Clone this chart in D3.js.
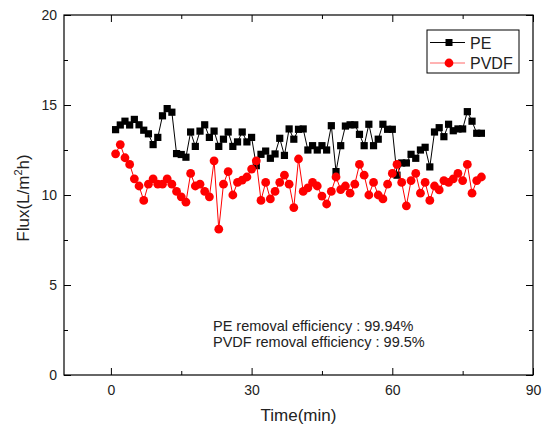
<!DOCTYPE html>
<html>
<head>
    <meta charset="utf-8" />
    <title>Flux</title>
    <script src="https://cdn.jsdelivr.net/npm/d3@7/dist/d3.min.js" charset="utf-8"></script>
    <style>
        body { margin: 0; background: #fff; }
        text { font-family: Arial, "Liberation Sans", sans-serif; }
    </style>
</head>
<body>
<script charset="utf-8">

    // time in minutes, one reading per minute
    var time = [1,2,3,4,5,6,7,8,9,10,11,12,13,14,15,16,17,18,19,20,
        21,22,23,24,25,26,27,28,29,30,31,32,33,34,35,36,37,38,39,40,
        41,42,43,44,45,46,47,48,49,50,51,52,53,54,55,56,57,58,59,60,
        61,62,63,64,65,66,67,68,69,70,71,72,73,74,75,76,77,78,79];
    var peFlux = [13.63,13.89,14.1,13.89,14.2,13.9,13.6,13.4,12.8,13.2,
        14.4,14.8,14.6,12.3,12.25,12.1,13.5,12.7,13.55,13.9,
        13.2,13.55,12.7,13.1,13.5,12.7,12.95,13.5,12.95,13.2,
        11.63,12.26,12.44,12.04,12.28,13.15,12.2,13.67,13.1,13.65,
        13.67,12.5,12.74,12.5,12.74,12.5,13.85,11.3,12.74,13.83,
        13.9,13.9,13.37,12.74,13.93,12.74,13.1,13.93,13.65,13.65,
        11.1,11.78,11.78,12.26,12.04,12.5,12.65,11.56,13.5,13.74,
        13.24,13.93,13.57,13.67,13.67,14.63,14.1,13.43,13.43];
    var pvdfFlux = [12.29,12.8,12.07,11.7,10.9,10.5,9.7,10.6,10.9,10.6,
        10.6,10.9,10.6,10.2,9.9,9.6,11.2,10.5,10.6,10.2,
        9.9,11.9,8.1,10.6,11.3,10.0,10.7,10.83,11.0,11.44,
        11.9,9.7,10.7,9.78,10.2,10.7,11.1,10.6,9.3,12.0,
        10.2,10.4,10.7,10.5,9.94,9.5,10.2,11.0,10.3,10.5,
        10.1,10.6,11.7,11.1,10.0,10.7,10.0,9.78,10.6,11.2,
        11.7,10.7,9.4,10.8,11.2,10.1,10.7,9.7,10.5,10.28,
        10.8,10.7,10.9,11.2,10.8,11.7,10.1,10.8,11.0];

    var xTicks = [0,30,60,90];
    var xMinor = [15,45,75];
    var yTicks = [0,5,10,15,20];
    var yMinor = [2.5,7.5,12.5,17.5];
    var seriesNames = ['PE','PVDF'];
    var notes = ['PE removal efficiency : 99.94%', 'PVDF removal efficiency : 99.5%'];

    var width = 550;
    var height = 429;
    var plot = { left: 64, right: 533, top: 15, bottom: 375 };

    var xScale = d3.scaleLinear().domain([-10,90]).range([plot.left, plot.right]);
    var yScale = d3.scaleLinear().domain([0,20]).range([plot.bottom, plot.top]);

    var svg = d3.select('body').append('svg').attr('width',width).attr('height',height);

    // axes, ticks pointing inward like Origin
    var xAxis = d3.axisBottom(xScale).tickValues(xTicks).tickSizeInner(-7).tickSizeOuter(0).tickPadding(10);
    var yAxis = d3.axisLeft(yScale).tickValues(yTicks).tickSizeInner(-7).tickSizeOuter(0).tickPadding(7);

    svg.append('g').attr('transform','translate(0,' + plot.bottom + ')').call(xAxis);
    svg.append('g').attr('transform','translate(' + plot.left + ',0)').call(yAxis);
    svg.append('g').attr('transform','translate(0,' + plot.bottom + ')')
        .call(d3.axisBottom(xScale).tickValues(xMinor).tickSize(-4).tickFormat(''));
    svg.append('g').attr('transform','translate(' + plot.left + ',0)')
        .call(d3.axisLeft(yScale).tickValues(yMinor).tickSize(-4).tickFormat(''));
    // mirrored ticks on top and right
    svg.append('g').attr('transform','translate(0,' + plot.top + ')')
        .call(d3.axisTop(xScale).tickValues(xTicks).tickSize(-7).tickFormat(''));
    svg.append('g').attr('transform','translate(0,' + plot.top + ')')
        .call(d3.axisTop(xScale).tickValues(xMinor).tickSize(-4).tickFormat(''));
    svg.append('g').attr('transform','translate(' + plot.right + ',0)')
        .call(d3.axisRight(yScale).tickValues(yTicks).tickSize(-7).tickFormat(''));
    svg.append('g').attr('transform','translate(' + plot.right + ',0)')
        .call(d3.axisRight(yScale).tickValues(yMinor).tickSize(-4).tickFormat(''));

    svg.selectAll('.domain').remove();
    svg.selectAll('.tick line').attr('stroke','#000');
    svg.selectAll('.tick text').attr('font-size',14).attr('fill','#222')
        .style('font-family','Arial, "Liberation Sans", sans-serif');

    svg.append('rect')
        .attr('x',plot.left).attr('y',plot.top)
        .attr('width',plot.right - plot.left).attr('height',plot.bottom - plot.top)
        .attr('fill','none').attr('stroke','#000').attr('stroke-width',1.2);

    // axis titles
    svg.append('text').attr('x',(plot.left + plot.right)/2).attr('y',421)
        .attr('text-anchor','middle').attr('font-size',17).attr('fill','#222').text('Time(min)');
    var yt = svg.append('text').attr('transform','translate(29,' + 198 + ') rotate(-90)')
        .attr('text-anchor','middle').attr('font-size',17).attr('fill','#222');
    yt.append('tspan').text('Flux(L/m');
    yt.append('tspan').attr('font-size',11).attr('dy',-7).text('2');
    yt.append('tspan').attr('dy',7).text('h)');

    var line = d3.line()
        .x(function(d,i){ return xScale(time[i]); })
        .y(function(d){ return yScale(d); });

    // PE
    svg.append('path').datum(peFlux).attr('d',line)
        .attr('fill','none').attr('stroke','#000').attr('stroke-width',1);
    svg.selectAll('rect.pe').data(peFlux).enter().append('rect')
        .attr('class','pe')
        .attr('x',function(d,i){ return xScale(time[i]) - 3.6; })
        .attr('y',function(d){ return yScale(d) - 3.6; })
        .attr('width',7.2).attr('height',7.2).attr('fill','#000');

    // PVDF
    svg.append('path').datum(pvdfFlux).attr('d',line)
        .attr('fill','none').attr('stroke','#f00').attr('stroke-width',1);
    svg.selectAll('circle.pvdf').data(pvdfFlux).enter().append('circle')
        .attr('class','pvdf')
        .attr('cx',function(d,i){ return xScale(time[i]); })
        .attr('cy',function(d){ return yScale(d); })
        .attr('r',4.4).attr('fill','#f00');

    // legend
    var lg = svg.append('g');
    lg.append('rect').attr('x',427).attr('y',30).attr('width',92).attr('height',43)
        .attr('fill','#fff').attr('stroke','#000').attr('stroke-width',1);
    lg.append('line').attr('x1',430).attr('x2',465).attr('y1',42.5).attr('y2',42.5).attr('stroke','#000');
    lg.append('rect').attr('x',445.5).attr('y',39).attr('width',7).attr('height',7).attr('fill','#000');
    lg.append('line').attr('x1',430).attr('x2',465).attr('y1',63).attr('y2',63).attr('stroke','#f66');
    lg.append('circle').attr('cx',449).attr('cy',63).attr('r',4.4).attr('fill','#f00');
    lg.selectAll('text.lab').data(seriesNames).enter().append('text')
        .attr('class','lab')
        .attr('x',470).attr('y',function(d,i){ return 48.5 + i*20.5; })
        .attr('font-size',16).attr('fill','#222').text(function(d){ return d; });

    // removal efficiency notes
    svg.selectAll('text.note').data(notes).enter().append('text')
        .attr('class','note')
        .attr('x',213).attr('y',function(d,i){ return 331 + i*16.3; })
        .attr('font-size',14.5).attr('fill','#222').text(function(d){ return d; });

</script>
</html>
